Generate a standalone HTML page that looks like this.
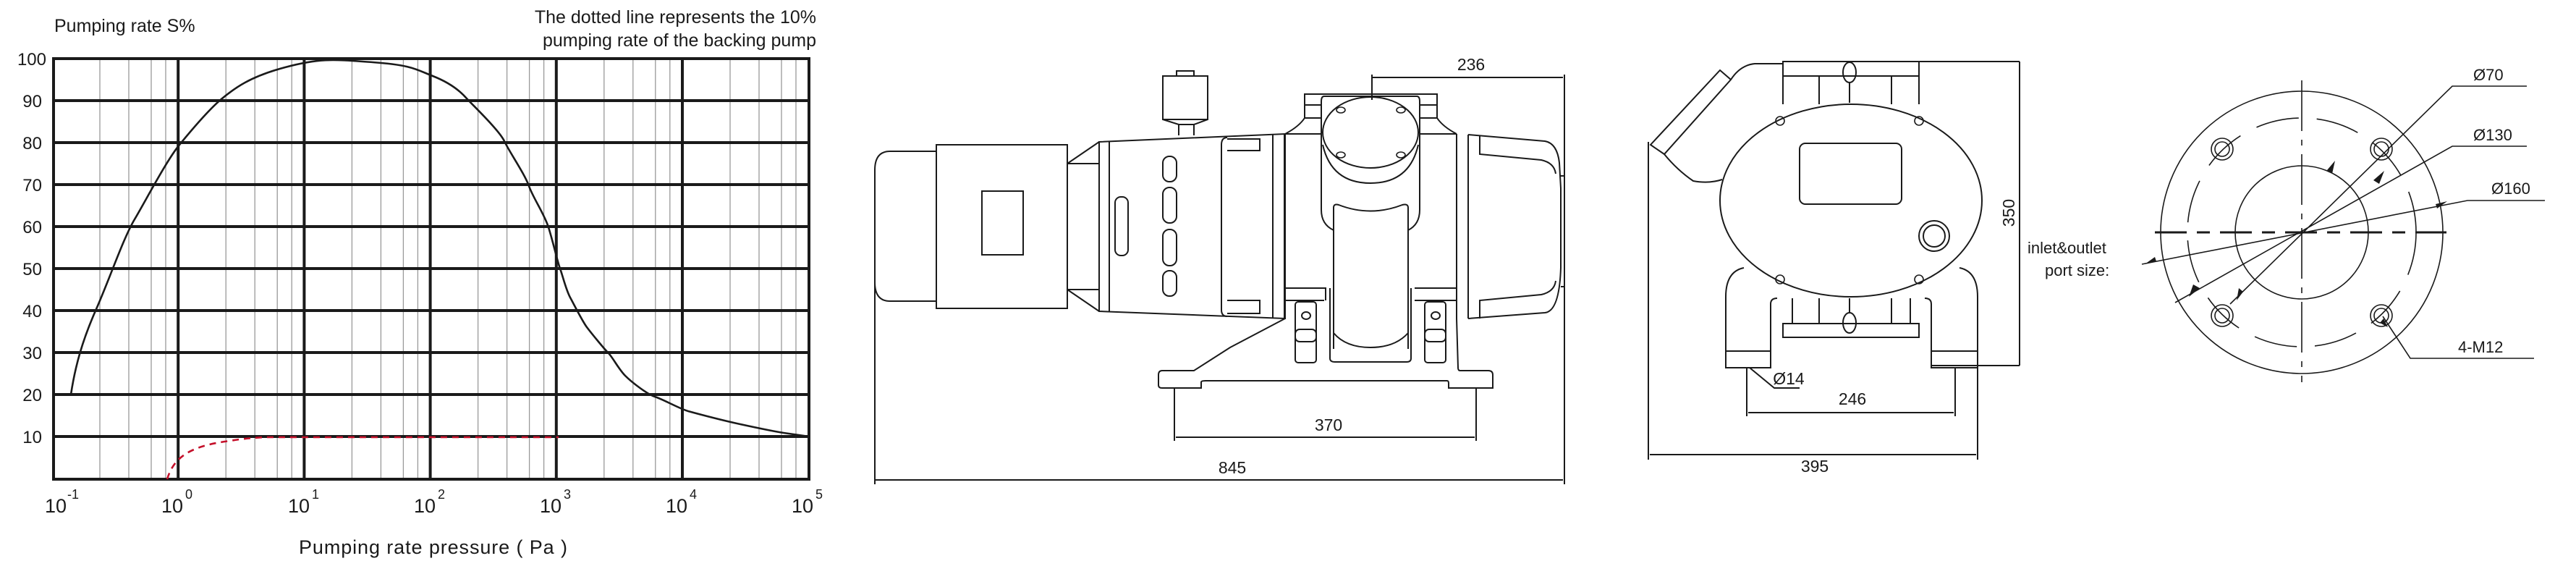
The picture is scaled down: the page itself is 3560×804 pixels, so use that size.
<!DOCTYPE html>
<html><head><meta charset="utf-8"><style>
html,body{margin:0;padding:0;background:#fff;}
svg{display:block;}
text{font-family:"Liberation Sans",sans-serif;fill:#1a1a1a;}
</style></head><body>
<svg width="3560" height="804" viewBox="0 0 3560 804" xmlns="http://www.w3.org/2000/svg">
<defs>
<g id="minor" stroke="#999" stroke-width="1.3">
<line x1="66" y1="81" x2="66" y2="662"/><line x1="106" y1="81" x2="106" y2="662"/>
<line x1="137" y1="81" x2="137" y2="662"/><line x1="157" y1="81" x2="157" y2="662"/>
</g>
</defs>

<!-- ===== CHART ===== -->
<use href="#minor" x="72"/><use href="#minor" x="246.2"/><use href="#minor" x="420.4"/>
<use href="#minor" x="594.6"/><use href="#minor" x="768.8"/><use href="#minor" x="943"/>
<g stroke="#1a1a1a" stroke-width="4">
<line x1="72" y1="139" x2="1118" y2="139"/><line x1="72" y1="197" x2="1118" y2="197"/>
<line x1="72" y1="255" x2="1118" y2="255"/><line x1="72" y1="313" x2="1118" y2="313"/>
<line x1="72" y1="371" x2="1118" y2="371"/><line x1="72" y1="429" x2="1118" y2="429"/>
<line x1="72" y1="487" x2="1118" y2="487"/><line x1="72" y1="545" x2="1118" y2="545"/>
<line x1="72" y1="603" x2="1118" y2="603"/>
<line x1="246.2" y1="81" x2="246.2" y2="662"/><line x1="420.4" y1="81" x2="420.4" y2="662"/>
<line x1="594.6" y1="81" x2="594.6" y2="662"/><line x1="768.8" y1="81" x2="768.8" y2="662"/>
<line x1="943" y1="81" x2="943" y2="662"/>
<rect x="74" y="81" width="1044" height="581" fill="none"/>
</g>
<path d="M98,545 C104,505 114,470 133,427 S170,330 186,303 S230,222 248,200 S290,150 307,136 S345,106 394,93 S460,82 515,86 S575,96 598,105 S635,125 644,135 S690,180 697,195 S725,240 731,257 S752,295 758,314 S770,360 774,371 S782,400 788,411 S805,444 811,452 S835,482 841,488 S855,510 864,519 S895,545 905,548 S940,565 951,568 S1000,581 1023,586 S1070,596 1083,598 L1118,603" fill="none" stroke="#1a1a1a" stroke-width="2.6"/>
<path d="M231,662 C240,632 262,616 318,609 C335,606 350,605 364,604 L772,604" fill="none" stroke="#c4102a" stroke-width="2.6" stroke-dasharray="9,7"/>
<g font-size="24" text-anchor="end">
<text x="64" y="90">100</text><text x="58" y="148">90</text><text x="58" y="206">80</text>
<text x="58" y="264">70</text><text x="58" y="322">60</text><text x="58" y="380">50</text>
<text x="58" y="438">40</text><text x="58" y="496">30</text><text x="58" y="554">20</text>
<text x="58" y="612">10</text>
</g>
<g font-size="27">
<text x="62" y="708">10</text><text x="93" y="689" font-size="18">-1</text>
<text x="223" y="708">10</text><text x="256" y="689" font-size="18">0</text>
<text x="398" y="708">10</text><text x="431" y="689" font-size="18">1</text>
<text x="572" y="708">10</text><text x="605" y="689" font-size="18">2</text>
<text x="746" y="708">10</text><text x="779" y="689" font-size="18">3</text>
<text x="920" y="708">10</text><text x="953" y="689" font-size="18">4</text>
<text x="1094" y="708">10</text><text x="1127" y="689" font-size="18">5</text>
</g>
<text x="75" y="44" font-size="25">Pumping rate S%</text>
<text x="1128" y="32" font-size="25" text-anchor="end">The dotted line represents the 10%</text>
<text x="1128" y="64" font-size="25" text-anchor="end">pumping rate of the backing pump</text>
<text x="413" y="765" font-size="27" textLength="371">Pumping rate pressure ( Pa )</text>

<!-- ===== SIDE VIEW ===== -->
<g fill="none" stroke="#1a1a1a" stroke-width="2">
<path d="M1294,209 L1230,209 Q1209,209 1209,235 L1209,390 Q1209,416 1230,416 L1294,416"/>
<rect x="1294" y="200" width="181" height="226"/>
<rect x="1357" y="264" width="57" height="88"/>
<path d="M1475,226 L1519,196 M1475,400 L1519,430 M1475,226 L1519,226 M1475,400 L1519,400"/>
<path d="M1519,196 L1776,185 L1776,440 L1519,430 Z"/>
<line x1="1533" y1="195" x2="1533" y2="431"/>
<rect x="1607" y="216" width="19" height="35" rx="9"/>
<rect x="1607" y="259" width="19" height="49" rx="9"/>
<rect x="1607" y="317" width="19" height="50" rx="9"/>
<rect x="1607" y="374" width="19" height="35" rx="9"/>
<rect x="1541" y="272" width="18" height="81" rx="8"/>
<path d="M1696,190 Q1688,190 1688,200 L1688,428 Q1688,437 1696,437"/>
<path d="M1696,192 L1741,192 L1741,208 L1696,208 M1696,415 L1741,415 L1741,433 L1696,433"/>
<line x1="1759" y1="186" x2="1759" y2="440"/>
<rect x="1626" y="98" width="24" height="7"/>
<rect x="1607" y="105" width="62" height="60"/>
<path d="M1607,165 L1629,172 L1650,172 L1669,165 M1629,172 L1629,187 M1650,172 L1650,187"/>
<path d="M1776,185 L1826,185 M1962,185 L2013,185"/>
<path d="M1776,185 Q1795,175 1803,163 L1803,130 L1986,130 L1986,163 Q1994,175 2013,185"/>
<path d="M1803,145 L1826,145 M1962,145 L1986,145 M1803,163 L1826,163 M1962,163 L1986,163"/>
<path d="M1830,133 L1958,133 Q1962,133 1962,140 L1962,290 Q1962,310 1946,318 M1830,133 Q1826,133 1826,140 L1826,290 Q1826,310 1843,318"/>
<ellipse cx="1894" cy="183" rx="66" ry="49"/>
<path d="M1828,200 Q1840,253 1894,253 Q1948,253 1960,200"/>
<g stroke-width="1.6"><ellipse cx="1853" cy="152" rx="6" ry="4"/><ellipse cx="1936" cy="152" rx="6" ry="4"/><ellipse cx="1853" cy="214" rx="6" ry="4"/><ellipse cx="1936" cy="214" rx="6" ry="4"/></g>
<path d="M1843,482 L1843,287 Q1843,281 1850,283 Q1894,300 1938,283 Q1946,281 1946,287 L1946,482"/>
<path d="M1843,460 Q1860,480 1894,480 Q1928,480 1946,460"/>
<path d="M1838,398 L1838,495 Q1838,500 1845,500 L1944,500 Q1950,500 1950,495 L1950,398"/>
<line x1="1775" y1="185" x2="1775" y2="440"/>
<line x1="2013" y1="185" x2="2013" y2="440"/><line x1="2029" y1="186" x2="2029" y2="440"/>
<path d="M1776,398 L1832,398 L1832,415 M1776,415 L1830,415 M1955,398 L2013,398 M1955,415 L2013,415"/>
<rect x="1790" y="417" width="29" height="84" rx="4"/><ellipse cx="1805" cy="436" rx="6" ry="5"/><rect x="1790" y="455" width="29" height="17" rx="6"/>
<rect x="1969" y="417" width="29" height="84" rx="4"/><ellipse cx="1984" cy="436" rx="6" ry="5"/><rect x="1969" y="455" width="29" height="17" rx="6"/>
<path d="M2029,186 L2135,195 Q2152,198 2155,225 L2157,260 L2157,370 Q2155,430 2135,432 L2029,440"/>
<path d="M2045,187 L2045,213 L2130,221 Q2148,225 2150,240 M2045,440 L2045,415 L2130,407 Q2148,403 2150,388"/>
<path d="M2157,243 L2162,243 L2162,396 L2157,396"/>
<path d="M1776,440 L1700,480 L1650,512 L1606,512 Q1601,512 1601,518 L1601,532 Q1601,536 1606,536 L1623,536 L1623,536 L1660,536 L1660,528 Q1660,526 1666,526 L2000,526 Q2002,526 2002,530 L2002,536 L2060,536 L2063,536 L2063,518 Q2063,512 2057,512 L2018,512 Q2015,512 2015,508 L2013,440"/>
<path d="M1896,103 L1896,138 M1896,107 L2160,107 M2162,103 L2162,669"/>
<path d="M1209,241 L1209,669 M1209,663 L2160,663"/>
<path d="M1623,536 L1623,609 M2040,536 L2040,609 M1625,604 L2038,604"/>
</g>
<g font-size="23" text-anchor="middle">
<text x="2033" y="97">236</text><text x="1836" y="595">370</text><text x="1703" y="654">845</text>
</g>

<!-- ===== END VIEW ===== -->
<g fill="none" stroke="#1a1a1a" stroke-width="2">
<path d="M2281,200 L2377,97 L2392,110 L2300,213 Z"/>
<path d="M2392,110 Q2405,90 2425,88 L2464,88 M2300,213 Q2318,235 2340,250 Q2362,254 2380,248"/>
<ellipse cx="2558" cy="277" rx="181" ry="133"/>
<rect x="2464" y="85" width="188" height="20"/>
<path d="M2464,105 L2464,144 M2652,105 L2652,144 M2514,105 L2514,144 M2614,105 L2614,144"/>
<ellipse cx="2556" cy="100" rx="9" ry="14"/><line x1="2556" y1="114" x2="2556" y2="142"/>
<rect x="2464" y="447" width="188" height="19"/>
<path d="M2477,412 L2477,447 M2640,412 L2640,447 M2514,412 L2514,447 M2614,412 L2614,447"/>
<ellipse cx="2556" cy="446" rx="9" ry="14"/><line x1="2556" y1="412" x2="2556" y2="432"/>
<path d="M2410,370 Q2385,375 2385,410 L2385,508 L2447,508 L2447,420 Q2447,412 2456,412"/>
<line x1="2385" y1="485" x2="2447" y2="485"/>
<path d="M2708,370 Q2733,375 2733,410 L2733,508 L2669,508 L2669,420 Q2669,412 2660,412"/>
<line x1="2669" y1="485" x2="2733" y2="485"/>
<rect x="2487" y="198" width="141" height="84" rx="8"/>
<circle cx="2673" cy="326" r="21"/><circle cx="2673" cy="326" r="15"/>
<g stroke-width="1.6"><circle cx="2460" cy="167" r="6"/><circle cx="2652" cy="167" r="6"/><circle cx="2460" cy="386" r="6"/><circle cx="2652" cy="386" r="6"/></g>
<path d="M2278,196 L2278,635 M2280,628 L2731,628 M2733,508 L2733,635"/>
<path d="M2652,85 L2791,85 M2791,85 L2791,505 M2668,505 L2791,505"/>
<path d="M2414,508 L2414,575 M2702,508 L2702,575 M2416,570 L2700,570"/>
<path d="M2418,508 L2452,536 L2487,536"/>
</g>
<g font-size="23" text-anchor="middle">
<text x="2508" y="652">395</text><text x="2560" y="559">246</text>
<text x="2472" y="531">Ø14</text>
<text transform="translate(2784,294) rotate(-90)">350</text>
</g>

<!-- ===== FLANGE ===== -->
<g fill="none" stroke="#1a1a1a" stroke-width="1.6">
<circle cx="3181" cy="321" r="195"/>
<circle cx="3181" cy="321" r="92"/>
<circle cx="3181" cy="321" r="158" stroke-dasharray="60,25"/>
<circle cx="3071" cy="206" r="15"/><circle cx="3071" cy="206" r="10"/>
<circle cx="3291" cy="206" r="15"/><circle cx="3291" cy="206" r="10"/>
<circle cx="3071" cy="436" r="15"/><circle cx="3071" cy="436" r="10"/>
<circle cx="3291" cy="436" r="15"/><circle cx="3291" cy="436" r="10"/>
<line x1="3181" y1="111" x2="3181" y2="528" stroke-dasharray="70,12,8,12"/>
<line x1="2978" y1="321" x2="3381" y2="321" stroke-width="3" stroke-dasharray="44,14,18,14"/>
<path d="M3492,119 L3389,119 L3082,420 M3492,202 L3389,202 L3006,418 M3517,277 L3410,277 L2960,365 M3502,495 L3331,495 L3293,437"/>
</g>
<g fill="#1a1a1a">
<path d="M3216,235 L3227,222 L3223,240 Z"/><path d="M3100,403 L3091,415 L3094,398 Z"/>
<path d="M3280,249 L3295,236 L3288,254 Z"/><path d="M3040,398 L3025,410 L3031,393 Z"/>
<path d="M3366,282 L3382,278 L3368,288 Z"/><path d="M2980,361 L2964,365 L2978,355 Z"/>
<path d="M3294,440 L3300,452 L3289,446 Z"/>
</g>
<g font-size="22">
<text x="3418" y="111">Ø70</text><text x="3418" y="194">Ø130</text><text x="3443" y="268">Ø160</text>
<text x="3397" y="487">4-M12</text>
<text x="2802" y="350">inlet&amp;outlet</text><text x="2826" y="381">port size:</text>
</g>
</svg>
</body></html>
